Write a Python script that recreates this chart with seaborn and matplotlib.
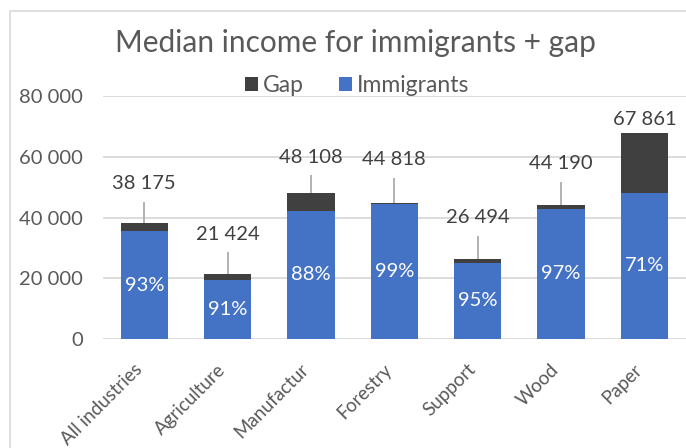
import matplotlib
matplotlib.use("Agg")
import matplotlib.pyplot as plt
from matplotlib.patches import Rectangle, Patch
from matplotlib.transforms import ScaledTranslation
import pandas as pd
import seaborn as sns

# Median income data
categories = ["All industries", "Agriculture", "Manufactur", "Forestry", "Support", "Wood", "Paper"]
totals = [38175, 21424, 48108, 44818, 26494, 44190, 67861]
immigrant_pct = [93, 91, 88, 99, 95, 97, 71]
immigrants = [t * p / 100 for t, p in zip(totals, immigrant_pct)]
y_ticks = [0, 20000, 40000, 60000, 80000]
y_tick_labels = ["0", "20 000", "40 000", "60 000", "80 000"]

# Layout: height (in data units) above each bar where its total label sits
label_lift = [12900, 13100, 11700, 14200, 13400, 13500, 4500]

BLUE = "#4472C4"
GAP = "#404040"
TEXT = "#595959"
GRID = "#D9D9D9"

sns.set_theme(style="white")
plt.rcParams["font.family"] = ["Lato", "DejaVu Sans"]

df = pd.DataFrame({"category": categories, "total": totals, "immigrants": immigrants})

fig = plt.figure(figsize=(6.86, 4.48), dpi=100)
W, H = 686, 448
ax = fig.add_axes([102.6 / W, (H - 339) / H, (686 - 102.6) / W, (339 - 96.2) / H])

sns.barplot(data=df, x="category", y="total", color=GAP, saturation=1,
            width=0.57, linewidth=0, ax=ax, zorder=3)
sns.barplot(data=df, x="category", y="immigrants", color=BLUE, saturation=1,
            width=0.57, linewidth=0, ax=ax, zorder=4)

ax.set_ylim(0, 80000)
ax.set_xlim(-0.5, len(categories) - 0.5)
ax.set_yticks(y_ticks)
ax.set_yticklabels(y_tick_labels)
ax.yaxis.grid(True, color=GRID, linewidth=1.3, zorder=0)
ax.set_axisbelow(True)
for s in ax.spines.values():
    s.set_visible(False)
ax.set_xlabel("")
ax.set_ylabel("")
ax.tick_params(axis="y", length=0, pad=14, labelsize=14.5, labelcolor=TEXT)
ax.tick_params(axis="x", length=0, pad=20, labelsize=13.5, labelcolor=TEXT)
shift = ScaledTranslation(-5 / 100, 0, fig.dpi_scale_trans)
for lab in ax.get_xticklabels():
    lab.set_rotation(45)
    lab.set_ha("right")
    lab.set_va("center")
    lab.set_rotation_mode("anchor")
    lab.set_transform(lab.get_transform() + shift)

for i, (tot, imm, pct, lift) in enumerate(zip(totals, immigrants, immigrant_pct, label_lift)):
    # percentage share inside the immigrant segment
    ax.text(i, imm / 2, f"{pct}%", ha="center", va="center", color="white",
            fontsize=14.5, zorder=6)
    label_y = tot + lift
    ax.text(i, label_y, f"{tot:,}".replace(",", " "), ha="center", va="center",
            color="#404040", fontsize=14.5, zorder=6, clip_on=False)
    if lift > 8000:
        ax.plot([i, i], [tot, label_y - 5900], color="#A6A6A6", linewidth=1.2,
                zorder=5, solid_capstyle="butt")

fig.text(355 / W, (H - 43) / H, "Median income for immigrants + gap", ha="center",
         va="center", fontsize=21.5, color=TEXT)

handles = [Patch(facecolor=GAP, edgecolor="none"), Patch(facecolor=BLUE, edgecolor="none")]
fig.legend(handles, ["Gap", "Immigrants"], loc="center", ncol=2,
           bbox_to_anchor=(357 / W, (H - 86) / H), frameon=False, fontsize=16.5,
           labelcolor=TEXT, handlelength=0.57, handleheight=0.57, handletextpad=0.2,
           columnspacing=1.55, borderpad=0, borderaxespad=0)

# chart area border
fig.patches.append(Rectangle((10 / W, -0.1), 1.2, (H - 11) / H + 0.1,
                             transform=fig.transFigure, fill=False,
                             edgecolor=GRID, linewidth=1.2))

fig.savefig("out.png", dpi=100)
